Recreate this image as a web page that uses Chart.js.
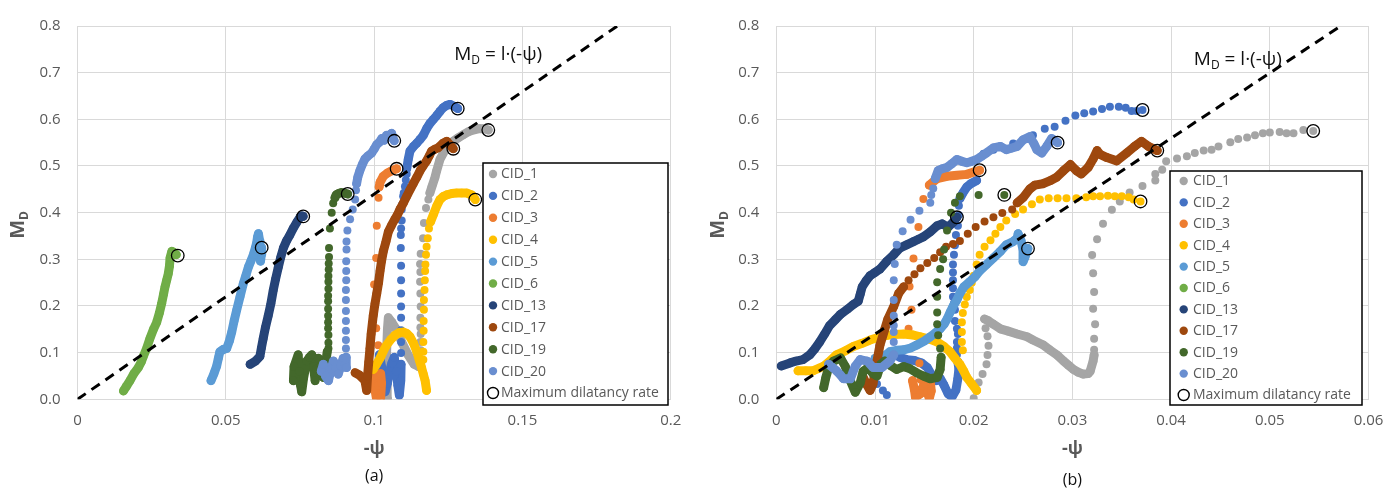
<!DOCTYPE html>
<html>
<head>
<meta charset="utf-8">
<script src="https://cdn.jsdelivr.net/npm/chart.js@4/dist/chart.umd.min.js"></script>
<style>
  html, body { margin: 0; padding: 0; background: #fff; }
  #wrap { position: relative; width: 1400px; height: 489px; overflow: hidden; }
  .panel { position: absolute; top: 0; width: 700px; height: 489px; }
</style>
</head>
<body>
<div id="wrap">
  <div class="panel" style="left:0"><canvas id="chartA" width="700" height="489"></canvas></div>
  <div class="panel" style="left:700px"><canvas id="chartB" width="700" height="489"></canvas></div>
</div>
<script>
// Series names shared by both panels
const seriesNames = ['CID_1', 'CID_2', 'CID_3', 'CID_4', 'CID_5', 'CID_6', 'CID_13', 'CID_17', 'CID_19', 'CID_20'];

// ---------- Panel (a): [ -psi , M_D ] ----------
// "_line" arrays are densely sampled runs (null separates runs); "_dots" are isolated samples
const A_CID_1_line = [
  [0.1045,0.002],[0.1044,0.05],[0.1042,0.10],[0.1045,0.15],[0.1048,0.175],[0.1060,0.165],[0.1075,0.150],[0.1095,0.120],[0.1115,0.095],[0.1135,0.075],[0.1150,0.070],[0.1157,0.085],
  null,
  [0.1188,0.442],[0.1195,0.456],[0.1205,0.475],[0.1211,0.490],[0.1222,0.514],[0.1239,0.534],[0.1255,0.546],[0.1267,0.553],[0.1285,0.561],[0.1301,0.567],[0.1320,0.574],[0.1334,0.577],[0.1355,0.580],[0.1370,0.580],[0.1385,0.577]
];
const A_CID_1_dots = [[0.1157,0.105],[0.1156,0.123],[0.1157,0.140],[0.1156,0.154],[0.1156,0.175],[0.1157,0.199],[0.1156,0.227],[0.1155,0.252],[0.1156,0.273],[0.1155,0.290],[0.1157,0.312],[0.1165,0.345],[0.1168,0.378],[0.1175,0.410],[0.1183,0.428]];

const A_CID_2_line = [
  [0.1018,0.0955],[0.1025,0.07],[0.1031,0.04],[0.1037,0.016],[0.1045,0.035],[0.1052,0.06],[0.1060,0.078],[0.1068,0.09],[0.1075,0.06],[0.1080,0.03],[0.1085,0.009],[0.1090,0.04],[0.1091,0.075],
  null,
  [0.1110,0.494],[0.1115,0.514],[0.1121,0.532],[0.1133,0.542],[0.1144,0.549],[0.1155,0.557],[0.1166,0.566],[0.1177,0.580],[0.1188,0.591],[0.1200,0.600],[0.1211,0.608],[0.1222,0.617],[0.1233,0.625],[0.1245,0.630],[0.1256,0.632],[0.1270,0.628],[0.1282,0.623]
];
const A_CID_2_dots = [[0.1091,0.099],[0.1091,0.123],[0.1091,0.148],[0.1091,0.175],[0.1091,0.199],[0.1091,0.227],[0.1091,0.255],[0.1091,0.286],[0.1090,0.324],[0.1090,0.352],[0.1091,0.366],[0.1093,0.383],[0.1093,0.407],[0.1095,0.418],[0.1098,0.435],[0.1100,0.442],[0.1104,0.456],[0.1107,0.470],[0.1110,0.483]];

const A_CID_3_line = [
  [0.1000,0.050],[0.1003,0.020],[0.1008,0.002],[0.1015,0.030],[0.1022,0.003],[0.1025,0.035],[0.1022,0.055],
  null,
  [0.1017,0.455],[0.1020,0.465],[0.1031,0.478],[0.1045,0.485],[0.1060,0.490],[0.1076,0.494]
];
const A_CID_3_dots = [[0.1014,0.116],[0.1007,0.152],[0.1000,0.246],[0.1007,0.303],[0.1009,0.372],[0.1015,0.432]];

const A_CID_4_line = [
  [0.0997,0.064],[0.1008,0.075],[0.1020,0.088],[0.1031,0.103],[0.1042,0.116],[0.1056,0.128],[0.1070,0.137],[0.1085,0.143],[0.1099,0.144],[0.1110,0.141],[0.1121,0.134],[0.1133,0.120],[0.1144,0.102],[0.1152,0.085],[0.1160,0.068],[0.1166,0.054],[0.1172,0.040],[0.1177,0.019],
  null,
  [0.1190,0.380],[0.1200,0.396],[0.1211,0.414],[0.1222,0.428],[0.1234,0.435],[0.1245,0.438],[0.1262,0.441],[0.1278,0.442],[0.1295,0.442],[0.1312,0.442],[0.1329,0.438],[0.1341,0.428]
];
const A_CID_4_dots = [[0.1166,0.085],[0.1166,0.102],[0.1166,0.123],[0.1167,0.147],[0.1167,0.168],[0.1168,0.192],[0.1168,0.213],[0.1170,0.234],[0.1171,0.255],[0.1172,0.275],[0.1173,0.289],[0.1175,0.310],[0.1177,0.327],[0.1181,0.345],[0.1185,0.366]];

const A_CID_5_line = [[0.0450,0.040],[0.0460,0.055],[0.0469,0.071],[0.0475,0.088],[0.0480,0.102],[0.0492,0.107],[0.0503,0.109],[0.0512,0.125],[0.0520,0.144],[0.0528,0.168],[0.0537,0.192],[0.0548,0.220],[0.0559,0.248],[0.0568,0.266],[0.0576,0.283],[0.0585,0.297],[0.0593,0.310],[0.0600,0.325],[0.0604,0.335],[0.0607,0.348],[0.0610,0.355],[0.0614,0.340],[0.0615,0.318],[0.0617,0.296],[0.0620,0.310],[0.0621,0.325]];
const A_CID_5_dots = [];

const A_CID_6_line = [[0.0155,0.018],[0.0165,0.028],[0.0177,0.040],[0.0190,0.055],[0.0205,0.068],[0.0215,0.080],[0.0222,0.092],[0.0233,0.109],[0.0244,0.130],[0.0256,0.150],[0.0267,0.165],[0.0276,0.185],[0.0284,0.206],[0.0290,0.225],[0.0295,0.241],[0.0301,0.256],[0.0306,0.269],[0.0310,0.285],[0.0312,0.303],[0.0318,0.317],[0.0325,0.315],[0.0333,0.310]];
const A_CID_6_dots = [];

const A_CID_13_line = [[0.0582,0.075],[0.0600,0.082],[0.0615,0.092],[0.0620,0.110],[0.0626,0.130],[0.0634,0.155],[0.0643,0.179],[0.0652,0.205],[0.0660,0.234],[0.0668,0.258],[0.0677,0.283],[0.0685,0.304],[0.0694,0.324],[0.0705,0.340],[0.0716,0.352],[0.0727,0.366],[0.0739,0.379],[0.0750,0.390],[0.0756,0.393],[0.0761,0.392]];
const A_CID_13_dots = [];

const A_CID_17_line = [[0.0936,0.057],[0.0950,0.052],[0.0969,0.040],[0.0975,0.019],[0.0978,0.050],[0.0982,0.080],[0.0986,0.109],[0.0990,0.140],[0.0997,0.179],[0.1003,0.205],[0.1009,0.227],[0.1015,0.250],[0.1020,0.275],[0.1025,0.296],[0.1031,0.317],[0.1040,0.338],[0.1048,0.359],[0.1058,0.372],[0.1070,0.386],[0.1080,0.397],[0.1087,0.407],[0.1099,0.421],[0.1110,0.435],[0.1121,0.449],[0.1132,0.462],[0.1144,0.476],[0.1155,0.490],[0.1166,0.501],[0.1177,0.511],[0.1186,0.522],[0.1194,0.532],[0.1205,0.536],[0.1216,0.539],[0.1233,0.549],[0.1245,0.553],[0.1256,0.545],[0.1267,0.537]];
const A_CID_17_dots = [];

const A_CID_19_line = [
  [0.0728,0.040],[0.0730,0.070],[0.0744,0.0955],[0.0748,0.060],[0.0752,0.030],[0.0756,0.016],[0.0762,0.045],[0.0773,0.082],[0.0782,0.090],[0.0790,0.0955],[0.0796,0.070],[0.0801,0.040],[0.0806,0.065],[0.0812,0.088],[0.0820,0.070],[0.0829,0.047],[0.0836,0.075],[0.0842,0.102],
  null,
  [0.0868,0.432],[0.0872,0.438],[0.0880,0.441],[0.0890,0.443],[0.0900,0.442],[0.0911,0.440]
];
const A_CID_19_dots = [[0.0846,0.109],[0.0846,0.121],[0.0846,0.138],[0.0845,0.152],[0.0845,0.165],[0.0845,0.179],[0.0845,0.194],[0.0845,0.210],[0.0845,0.222],[0.0846,0.237],[0.0846,0.252],[0.0846,0.264],[0.0847,0.278],[0.0847,0.291],[0.0848,0.305],[0.0848,0.324],[0.0851,0.366],[0.0857,0.400],[0.0862,0.420]];

const A_CID_20_line = [
  [0.0822,0.060],[0.0829,0.075],[0.0836,0.050],[0.0846,0.040],[0.0855,0.065],[0.0863,0.082],[0.0870,0.068],[0.0879,0.054],[0.0888,0.072],[0.0896,0.088],[0.0902,0.075],[0.0907,0.068],[0.0906,0.090],
  null,
  [0.0941,0.462],[0.0945,0.476],[0.0952,0.490],[0.0960,0.503],[0.0969,0.515],[0.0980,0.522],[0.0992,0.528],[0.1000,0.536],[0.1009,0.546],[0.1018,0.551],[0.1026,0.559],[0.1034,0.555],[0.1042,0.566],[0.1050,0.562],[0.1059,0.570],[0.1064,0.559],[0.1068,0.554]
];
const A_CID_20_dots = [[0.0905,0.109],[0.0905,0.127],[0.0905,0.147],[0.0905,0.168],[0.0905,0.189],[0.0905,0.213],[0.0905,0.234],[0.0906,0.255],[0.0906,0.275],[0.0906,0.296],[0.0907,0.321],[0.0907,0.338],[0.0910,0.362],[0.0919,0.386],[0.0928,0.407],[0.0936,0.428],[0.0939,0.448]];

// Maximum dilatancy rate, panel (a), one per series
const A_maxDilatancy = [[0.1385,0.577],[0.1282,0.623],[0.1076,0.494],[0.1341,0.428],[0.0621,0.325],[0.0338,0.308],[0.0761,0.392],[0.1267,0.537],[0.0911,0.440],[0.1068,0.554]];
// M_D = l·(-psi) reference line, panel (a)
const A_fitLine = [[0, 0], [0.182, 0.8]];

// ---------- Panel (b) ----------
const B_CID_1_line = [
  [0.0211,0.172],[0.0215,0.168],[0.0220,0.161],[0.0227,0.151],[0.0235,0.146],[0.0244,0.140],[0.0254,0.134],[0.0260,0.127],[0.0270,0.117],[0.0277,0.106],[0.0285,0.094],[0.0291,0.082],[0.0296,0.073],[0.0301,0.064],[0.0306,0.058],[0.0311,0.054],[0.0316,0.055],[0.0318,0.060],[0.0321,0.082],[0.0322,0.095]
];
const B_CID_1_dots = [
  [0.0200,0.002],[0.0203,0.020],[0.0205,0.036],[0.0209,0.054],[0.0213,0.075],[0.0214,0.095],[0.0215,0.115],[0.0214,0.135],[0.0212,0.152],
  [0.0322,0.106],[0.0322,0.130],[0.0323,0.161],[0.0321,0.194],[0.0322,0.230],[0.0321,0.270],[0.0320,0.309],[0.0325,0.343],[0.0331,0.376],[0.0340,0.406],[0.0348,0.424],[0.0358,0.443],[0.0371,0.457],[0.0384,0.469],[0.0384,0.483],[0.0391,0.492],[0.0395,0.510],
  [0.0406,0.516],[0.0416,0.521],[0.0424,0.528],[0.0433,0.533],[0.0441,0.535],[0.0448,0.542],[0.0460,0.551],[0.0468,0.558],[0.0477,0.561],[0.0485,0.566],[0.0493,0.570],[0.0500,0.572],[0.0510,0.573],[0.0517,0.570],[0.0524,0.570],[0.0534,0.577],[0.0544,0.575]
];

const B_CID_2_line = [
  [0.0125,0.090],[0.0132,0.085],[0.0140,0.083],[0.0147,0.078],[0.0153,0.068],[0.0158,0.050],[0.0162,0.040],[0.0166,0.045],[0.0170,0.030],[0.0174,0.012],[0.0178,0.005],[0.0182,0.020],[0.0184,0.045],[0.0185,0.065],[0.0184,0.080],
  null,
  [0.0186,0.430],[0.0189,0.442],[0.0193,0.455],[0.0197,0.462],[0.0203,0.469]
];
const B_CID_2_dots = [
  [0.0102,0.033],[0.0108,0.019],[0.0112,0.009],
  [0.0183,0.0955],[0.0183,0.110],[0.0183,0.123],[0.0184,0.140],[0.0183,0.151],[0.0181,0.168],[0.0181,0.192],[0.0180,0.206],[0.0179,0.220],[0.0179,0.238],[0.0179,0.255],[0.0179,0.272],[0.0179,0.289],[0.0180,0.310],[0.0181,0.330],[0.0182,0.352],[0.0184,0.372],[0.0185,0.395],[0.0185,0.415],
  [0.0210,0.526],[0.0220,0.535],[0.0240,0.548],[0.0260,0.566],[0.0272,0.580],[0.0282,0.584],[0.0293,0.597],[0.0303,0.608],[0.0312,0.613],[0.0321,0.617],[0.0330,0.622],[0.0338,0.627],[0.0347,0.627],[0.0354,0.625],[0.0360,0.618],[0.0365,0.618],[0.0371,0.620]
];

const B_CID_3_line = [
  [0.0138,0.040],[0.0140,0.020],[0.0141,0.004],[0.0146,0.012],[0.0150,0.035],[0.0153,0.015],[0.0155,0.002],[0.0157,0.018],[0.0156,0.038],[0.0147,0.042],
  null,
  [0.0155,0.459],[0.0163,0.473],[0.0173,0.478],[0.0183,0.480],[0.0193,0.482],[0.0200,0.487],[0.0206,0.491]
];
const B_CID_3_dots = [[0.0145,0.077],[0.0134,0.151],[0.0137,0.192],[0.0135,0.242],[0.0139,0.302],[0.0144,0.369],[0.0149,0.429]];

const B_CID_4_line = [
  [0.0022,0.061],[0.0030,0.061],[0.0037,0.061],[0.0048,0.071],[0.0055,0.083],[0.0061,0.0955],[0.0070,0.104],[0.0078,0.113],[0.0087,0.120],[0.0095,0.127],[0.0104,0.133],[0.0112,0.137],[0.0120,0.139],[0.0129,0.140],[0.0138,0.138],[0.0146,0.134],[0.0155,0.129],[0.0163,0.123],[0.0170,0.113],[0.0176,0.102],[0.0181,0.088],[0.0186,0.075],[0.0190,0.060],[0.0193,0.047],[0.0198,0.033],[0.0203,0.019]
];
const B_CID_4_dots = [
  [0.0189,0.105],[0.0188,0.123],[0.0188,0.144],[0.0188,0.165],[0.0189,0.185],[0.0191,0.203],[0.0193,0.219],[0.0196,0.234],[0.0198,0.250],[0.0200,0.265],[0.0203,0.289],[0.0206,0.310],[0.0211,0.327],[0.0217,0.341],[0.0222,0.355],[0.0227,0.369],[0.0233,0.383],[0.0242,0.397],[0.0250,0.407],[0.0259,0.418],[0.0267,0.428],
  [0.0276,0.431],[0.0285,0.431],[0.0294,0.431],[0.0304,0.431],[0.0314,0.433],[0.0321,0.435],[0.0328,0.435],[0.0336,0.436],[0.0343,0.435],[0.0350,0.435],[0.0357,0.433],[0.0362,0.428],[0.0369,0.424]
];

const B_CID_5_line = [[0.0100,0.088],[0.0107,0.0885],[0.0115,0.102],[0.0122,0.105],[0.0129,0.106],[0.0136,0.110],[0.0142,0.116],[0.0150,0.125],[0.0156,0.134],[0.0161,0.142],[0.0166,0.151],[0.0170,0.161],[0.0173,0.172],[0.0176,0.186],[0.0179,0.199],[0.0183,0.213],[0.0186,0.227],[0.0190,0.241],[0.0196,0.252],[0.0201,0.262],[0.0206,0.275],[0.0213,0.289],[0.0220,0.303],[0.0227,0.317],[0.0233,0.331],[0.0240,0.338],[0.0244,0.345],[0.0245,0.355],[0.0248,0.340],[0.0250,0.320],[0.0250,0.295],[0.0252,0.305],[0.0255,0.323]];
const B_CID_5_dots = [];

const B_CID_6_line = [];
const B_CID_6_dots = [];

const B_CID_13_line = [[0.0005,0.0713],[0.0014,0.078],[0.0020,0.082],[0.0027,0.085],[0.0034,0.0955],[0.0039,0.108],[0.0044,0.123],[0.0049,0.140],[0.0054,0.158],[0.0060,0.171],[0.0065,0.182],[0.0072,0.193],[0.0078,0.203],[0.0083,0.210],[0.0085,0.225],[0.0087,0.241],[0.0091,0.254],[0.0095,0.265],[0.0100,0.272],[0.0105,0.279],[0.0112,0.296],[0.0119,0.310],[0.0125,0.324],[0.0132,0.331],[0.0139,0.338],[0.0144,0.343],[0.0149,0.348],[0.0156,0.359],[0.0163,0.372],[0.0168,0.376],[0.0174,0.369],[0.0179,0.379],[0.0183,0.390]];
const B_CID_13_dots = [];

const B_CID_17_line = [
  [0.0088,0.047],[0.0092,0.030],[0.0095,0.019],[0.0098,0.033],[0.0100,0.060],[0.0102,0.082],[0.0105,0.116],[0.0110,0.151],[0.0113,0.172],[0.0119,0.199],[0.0124,0.227],[0.0129,0.241],
  null,
  [0.0244,0.421],[0.0250,0.432],[0.0257,0.451],[0.0262,0.459],[0.0270,0.462],[0.0277,0.468],[0.0284,0.476],[0.0291,0.490],[0.0298,0.503],[0.0304,0.490],[0.0309,0.483],[0.0316,0.497],[0.0321,0.515],[0.0325,0.533],[0.0328,0.525],[0.0335,0.518],[0.0345,0.511],[0.0355,0.528],[0.0363,0.542],[0.0370,0.553],[0.0377,0.542],[0.0386,0.533]
];
const B_CID_17_dots = [[0.0134,0.255],[0.0140,0.268],[0.0146,0.281],[0.0153,0.292],[0.0160,0.303],[0.0166,0.315],[0.0172,0.327],[0.0179,0.333],[0.0186,0.339],[0.0194,0.355],[0.0202,0.369],[0.0211,0.381],[0.0220,0.390],[0.0229,0.399],[0.0239,0.407]];

const B_CID_19_line = [[0.0048,0.025],[0.0050,0.045],[0.0053,0.068],[0.0058,0.082],[0.0065,0.0885],[0.0070,0.070],[0.0075,0.040],[0.0080,0.015],[0.0085,0.035],[0.0088,0.060],[0.0093,0.068],[0.0098,0.055],[0.0102,0.050],[0.0106,0.075],[0.0110,0.082],[0.0116,0.072],[0.0122,0.064],[0.0129,0.070],[0.0135,0.066],[0.0142,0.057],[0.0149,0.050],[0.0156,0.044],[0.0163,0.047],[0.0166,0.064],[0.0167,0.090]];
const B_CID_19_dots = [[0.0166,0.109],[0.0164,0.137],[0.0163,0.161],[0.0163,0.186],[0.0163,0.220],[0.0163,0.251],[0.0166,0.279],[0.0169,0.300],[0.0170,0.321],[0.0173,0.362],[0.0177,0.400],[0.0181,0.421],[0.0186,0.435],[0.0205,0.438],[0.0231,0.438]];

const B_CID_20_line = [
  [0.0053,0.075],[0.0057,0.068],[0.0061,0.061],[0.0065,0.052],[0.0068,0.044],[0.0075,0.044],[0.0080,0.071],[0.0085,0.085],[0.0092,0.082],[0.0098,0.068],[0.0107,0.068],[0.0115,0.082],[0.0119,0.0955],
  null,
  [0.0161,0.473],[0.0164,0.490],[0.0168,0.494],[0.0173,0.497],[0.0178,0.505],[0.0183,0.514],[0.0188,0.510],[0.0193,0.507],[0.0198,0.510],[0.0203,0.514],[0.0208,0.521],[0.0213,0.528],[0.0220,0.539],[0.0227,0.542],[0.0233,0.535],[0.0238,0.538],[0.0244,0.542],[0.0250,0.556],[0.0257,0.563],[0.0261,0.548],[0.0264,0.535],[0.0269,0.528],[0.0274,0.542],[0.0279,0.559],[0.0285,0.550]
];
const B_CID_20_dots = [[0.0119,0.123],[0.0119,0.144],[0.0119,0.158],[0.0119,0.179],[0.0119,0.213],[0.0119,0.255],[0.0120,0.290],[0.0122,0.331],[0.0128,0.360],[0.0136,0.385],[0.0145,0.404],[0.0156,0.421],[0.0157,0.438],[0.0159,0.452]];

const B_maxDilatancy = [[0.0544,0.575],[0.0371,0.620],[0.0206,0.491],[0.0369,0.424],[0.0255,0.323],[0.0183,0.390],[0.0386,0.533],[0.0231,0.438],[0.0285,0.550]];
const B_fitLine = [[0, 0], [0.0572, 0.8]];

// Axis ticks
const yTicks = { min: 0, max: 0.8, step: 0.1 };
const xTicksA = { min: 0, max: 0.2, step: 0.05 };
const xTicksB = { min: 0, max: 0.06, step: 0.01 };

// ---------- styling ----------
const seriesColors = ['#A5A5A5', '#4472C4', '#ED7D31', '#FFC000', '#5B9BD5', '#70AD47', '#264478', '#9E480E', '#43682B', '#698ED0'];
const FONT = "'Open Sans', 'DejaVu Sans', sans-serif";
const GRID = '#d9d9d9';
const TEXT = '#595959';

Chart.defaults.font.family = FONT;
Chart.defaults.animation = false;

const toXY = p => ({ x: p[0], y: p[1] });

function splitRuns(arr) {
  const runs = [];
  let cur = [];
  arr.forEach(p => {
    if (p === null) { if (cur.length) runs.push(cur); cur = []; }
    else cur.push(p);
  });
  if (cur.length) runs.push(cur);
  return runs;
}

function buildDatasets(lines, dots, maxPts, fit) {
  const ds = [];
  seriesNames.forEach((name, i) => {
    const c = seriesColors[i];
    splitRuns(lines[i]).forEach(run => {
      ds.push({
        label: name, data: run.map(toXY), showLine: true,
        borderColor: c, backgroundColor: c, borderWidth: 9,
        borderCapStyle: 'round', borderJoinStyle: 'round',
        pointRadius: 4.3, pointBorderWidth: 0, pointBackgroundColor: c,
        order: 100 - i
      });
    });
    if (dots[i].length) {
      ds.push({
        label: name, data: dots[i].map(toXY), showLine: false,
        pointRadius: 4, pointBorderWidth: 0, pointBackgroundColor: c, backgroundColor: c,
        order: 100 - i
      });
    }
  });
  ds.push({
    label: 'fit', data: fit.map(toXY), showLine: true,
    borderColor: '#000', borderWidth: 3, borderDash: [10, 7], pointRadius: 0, order: 2
  });
  ds.push({
    label: 'Maximum dilatancy rate', data: maxPts.map(toXY), showLine: false,
    pointRadius: 6.3, pointBorderWidth: 1.3, pointBorderColor: '#000',
    pointBackgroundColor: 'rgba(0,0,0,0)', order: 1
  });
  return ds;
}

// Boxed legend drawn inside the plot
const boxLegend = {
  id: 'boxLegend',
  afterDraw(chart, args, o) {
    const ctx = chart.ctx;
    ctx.save();
    ctx.fillStyle = '#fff';
    ctx.fillRect(o.left, o.top, o.right - o.left, o.bottom - o.top);
    ctx.strokeStyle = '#000';
    ctx.lineWidth = 1.5;
    ctx.strokeRect(o.left, o.top, o.right - o.left, o.bottom - o.top);
    ctx.font = '14px ' + FONT;
    ctx.textBaseline = 'middle';
    ctx.textAlign = 'left';
    seriesNames.forEach((n, i) => {
      const y = o.firstRow + i * o.rowStep;
      ctx.fillStyle = seriesColors[i];
      ctx.beginPath(); ctx.arc(o.markerX, y, 4.2, 0, Math.PI * 2); ctx.fill();
      ctx.fillStyle = TEXT;
      ctx.fillText(n, o.textX, y + 0.5);
    });
    const y = o.firstRow + seriesNames.length * o.rowStep;
    ctx.strokeStyle = '#000'; ctx.lineWidth = 1.4;
    ctx.beginPath(); ctx.arc(o.markerX, y, 5.5, 0, Math.PI * 2); ctx.stroke();
    ctx.fillStyle = TEXT;
    ctx.fillText('Maximum dilatancy rate', o.textX, y + 0.5);
    ctx.restore();
  }
};

// Axis title with subscript, equation label and panel caption
const panelText = {
  id: 'panelText',
  afterDatasetsDraw(chart, args, o) {
    const ctx = chart.ctx;
    const xs = chart.scales.x, ys = chart.scales.y;
    ctx.save();
    // equation M_D = l·(-psi)
    const ex = xs.getPixelForValue(o.eqAt[0]);
    const ey = ys.getPixelForValue(o.eqAt[1]);
    ctx.fillStyle = '#111';
    ctx.textBaseline = 'alphabetic';
    ctx.textAlign = 'left';
    ctx.font = '19px ' + FONT;
    ctx.fillText('M', ex, ey);
    let w = ctx.measureText('M').width;
    ctx.font = '12px ' + FONT;
    ctx.fillText('D', ex + w, ey + 4);
    w += ctx.measureText('D').width;
    ctx.font = '19px ' + FONT;
    ctx.fillText(' = l\u00B7(-\u03C8)', ex + w, ey);
    ctx.restore();
  },
  afterDraw(chart, args, o) {
    const ctx = chart.ctx;
    const area = chart.chartArea;
    ctx.save();
    // rotated y-axis title M_D
    ctx.translate(o.yTitleX, o.yTitleY);
    ctx.rotate(-Math.PI / 2);
    ctx.fillStyle = TEXT;
    ctx.textBaseline = 'alphabetic';
    ctx.textAlign = 'left';
    ctx.font = 'bold 20px ' + FONT;
    const mw = ctx.measureText('M').width;
    ctx.font = 'bold 12px ' + FONT;
    const dw = ctx.measureText('D').width;
    const start = -(mw + dw) / 2;
    ctx.font = 'bold 20px ' + FONT;
    ctx.fillText('M', start, 0);
    ctx.font = 'bold 12px ' + FONT;
    ctx.fillText('D', start + mw, 4);
    ctx.restore();
    // caption
    ctx.save();
    ctx.fillStyle = '#111';
    ctx.font = '16px ' + FONT;
    ctx.textAlign = 'center';
    ctx.textBaseline = 'middle';
    ctx.fillText(o.caption, (area.left + area.right) / 2, o.captionY);
    ctx.restore();
  }
};

// General-number tick format: 0, 0.05, 0.1, 0.15, 0.2
const generalFormat = v => String(parseFloat(Number(v).toFixed(6)));

function makeChart(id, cfg) {
  return new Chart(document.getElementById(id), {
    type: 'scatter',
    data: { datasets: buildDatasets(cfg.lines, cfg.dots, cfg.maxPts, cfg.fit) },
    plugins: [panelText, boxLegend],
    options: {
      responsive: false,
      animation: false,
      events: [],
      layout: { padding: { left: 0, top: 14, right: cfg.padRight, bottom: 0 } },
      plugins: {
        legend: { display: false },
        tooltip: { enabled: false },
        boxLegend: cfg.legend,
        panelText: cfg.text
      },
      scales: {
        x: {
          type: 'linear', min: cfg.xTicks.min, max: cfg.xTicks.max,
          afterFit: s => { s.height = 89.7; },
          ticks: { stepSize: cfg.xTicks.step, color: TEXT, font: { size: 15 }, padding: 12, callback: generalFormat },
          grid: { color: GRID, lineWidth: 1, drawTicks: false },
          border: { color: GRID, width: 1 },
          title: { display: true, text: '-\u03C8', color: TEXT, font: { size: 18, weight: 'bold' }, padding: { top: 0, bottom: 29 } }
        },
        y: {
          type: 'linear', min: yTicks.min, max: yTicks.max,
          afterFit: s => { s.width = cfg.yWidth; },
          ticks: { stepSize: yTicks.step, color: TEXT, font: { size: 15 }, padding: 17,
                   callback: v => Number(v).toFixed(1) },
          grid: { color: GRID, lineWidth: 1, drawTicks: false },
          border: { color: GRID, width: 1 }
        }
      }
    }
  });
}

makeChart('chartA', {
  lines: [A_CID_1_line, A_CID_2_line, A_CID_3_line, A_CID_4_line, A_CID_5_line, A_CID_6_line, A_CID_13_line, A_CID_17_line, A_CID_19_line, A_CID_20_line],
  dots: [A_CID_1_dots, A_CID_2_dots, A_CID_3_dots, A_CID_4_dots, A_CID_5_dots, A_CID_6_dots, A_CID_13_dots, A_CID_17_dots, A_CID_19_dots, A_CID_20_dots],
  maxPts: A_maxDilatancy, fit: A_fitLine, xTicks: xTicksA,
  yWidth: 77.5, padRight: 29.3,
  legend: { left: 483, right: 668, top: 163, bottom: 405, markerX: 493, textX: 501, firstRow: 174, rowStep: 21.9 },
  text: { eqAt: [0.127, 0.728], caption: '(a)', captionY: 476.5, yTitleX: 24, yTitleY: 225 }
});

makeChart('chartB', {
  lines: [B_CID_1_line, B_CID_2_line, B_CID_3_line, B_CID_4_line, B_CID_5_line, B_CID_6_line, B_CID_13_line, B_CID_17_line, B_CID_19_line, B_CID_20_line],
  dots: [B_CID_1_dots, B_CID_2_dots, B_CID_3_dots, B_CID_4_dots, B_CID_5_dots, B_CID_6_dots, B_CID_13_dots, B_CID_17_dots, B_CID_19_dots, B_CID_20_dots],
  maxPts: B_maxDilatancy, fit: B_fitLine, xTicks: xTicksB,
  yWidth: 76.3, padRight: 31.5,
  legend: { left: 470, right: 662, top: 171, bottom: 405, markerX: 483.7, textX: 493, firstRow: 181, rowStep: 21.4 },
  text: { eqAt: [0.0423, 0.7166], caption: '(b)', captionY: 480.5, yTitleX: 24, yTitleY: 225 }
});
</script>
</body>
</html>
